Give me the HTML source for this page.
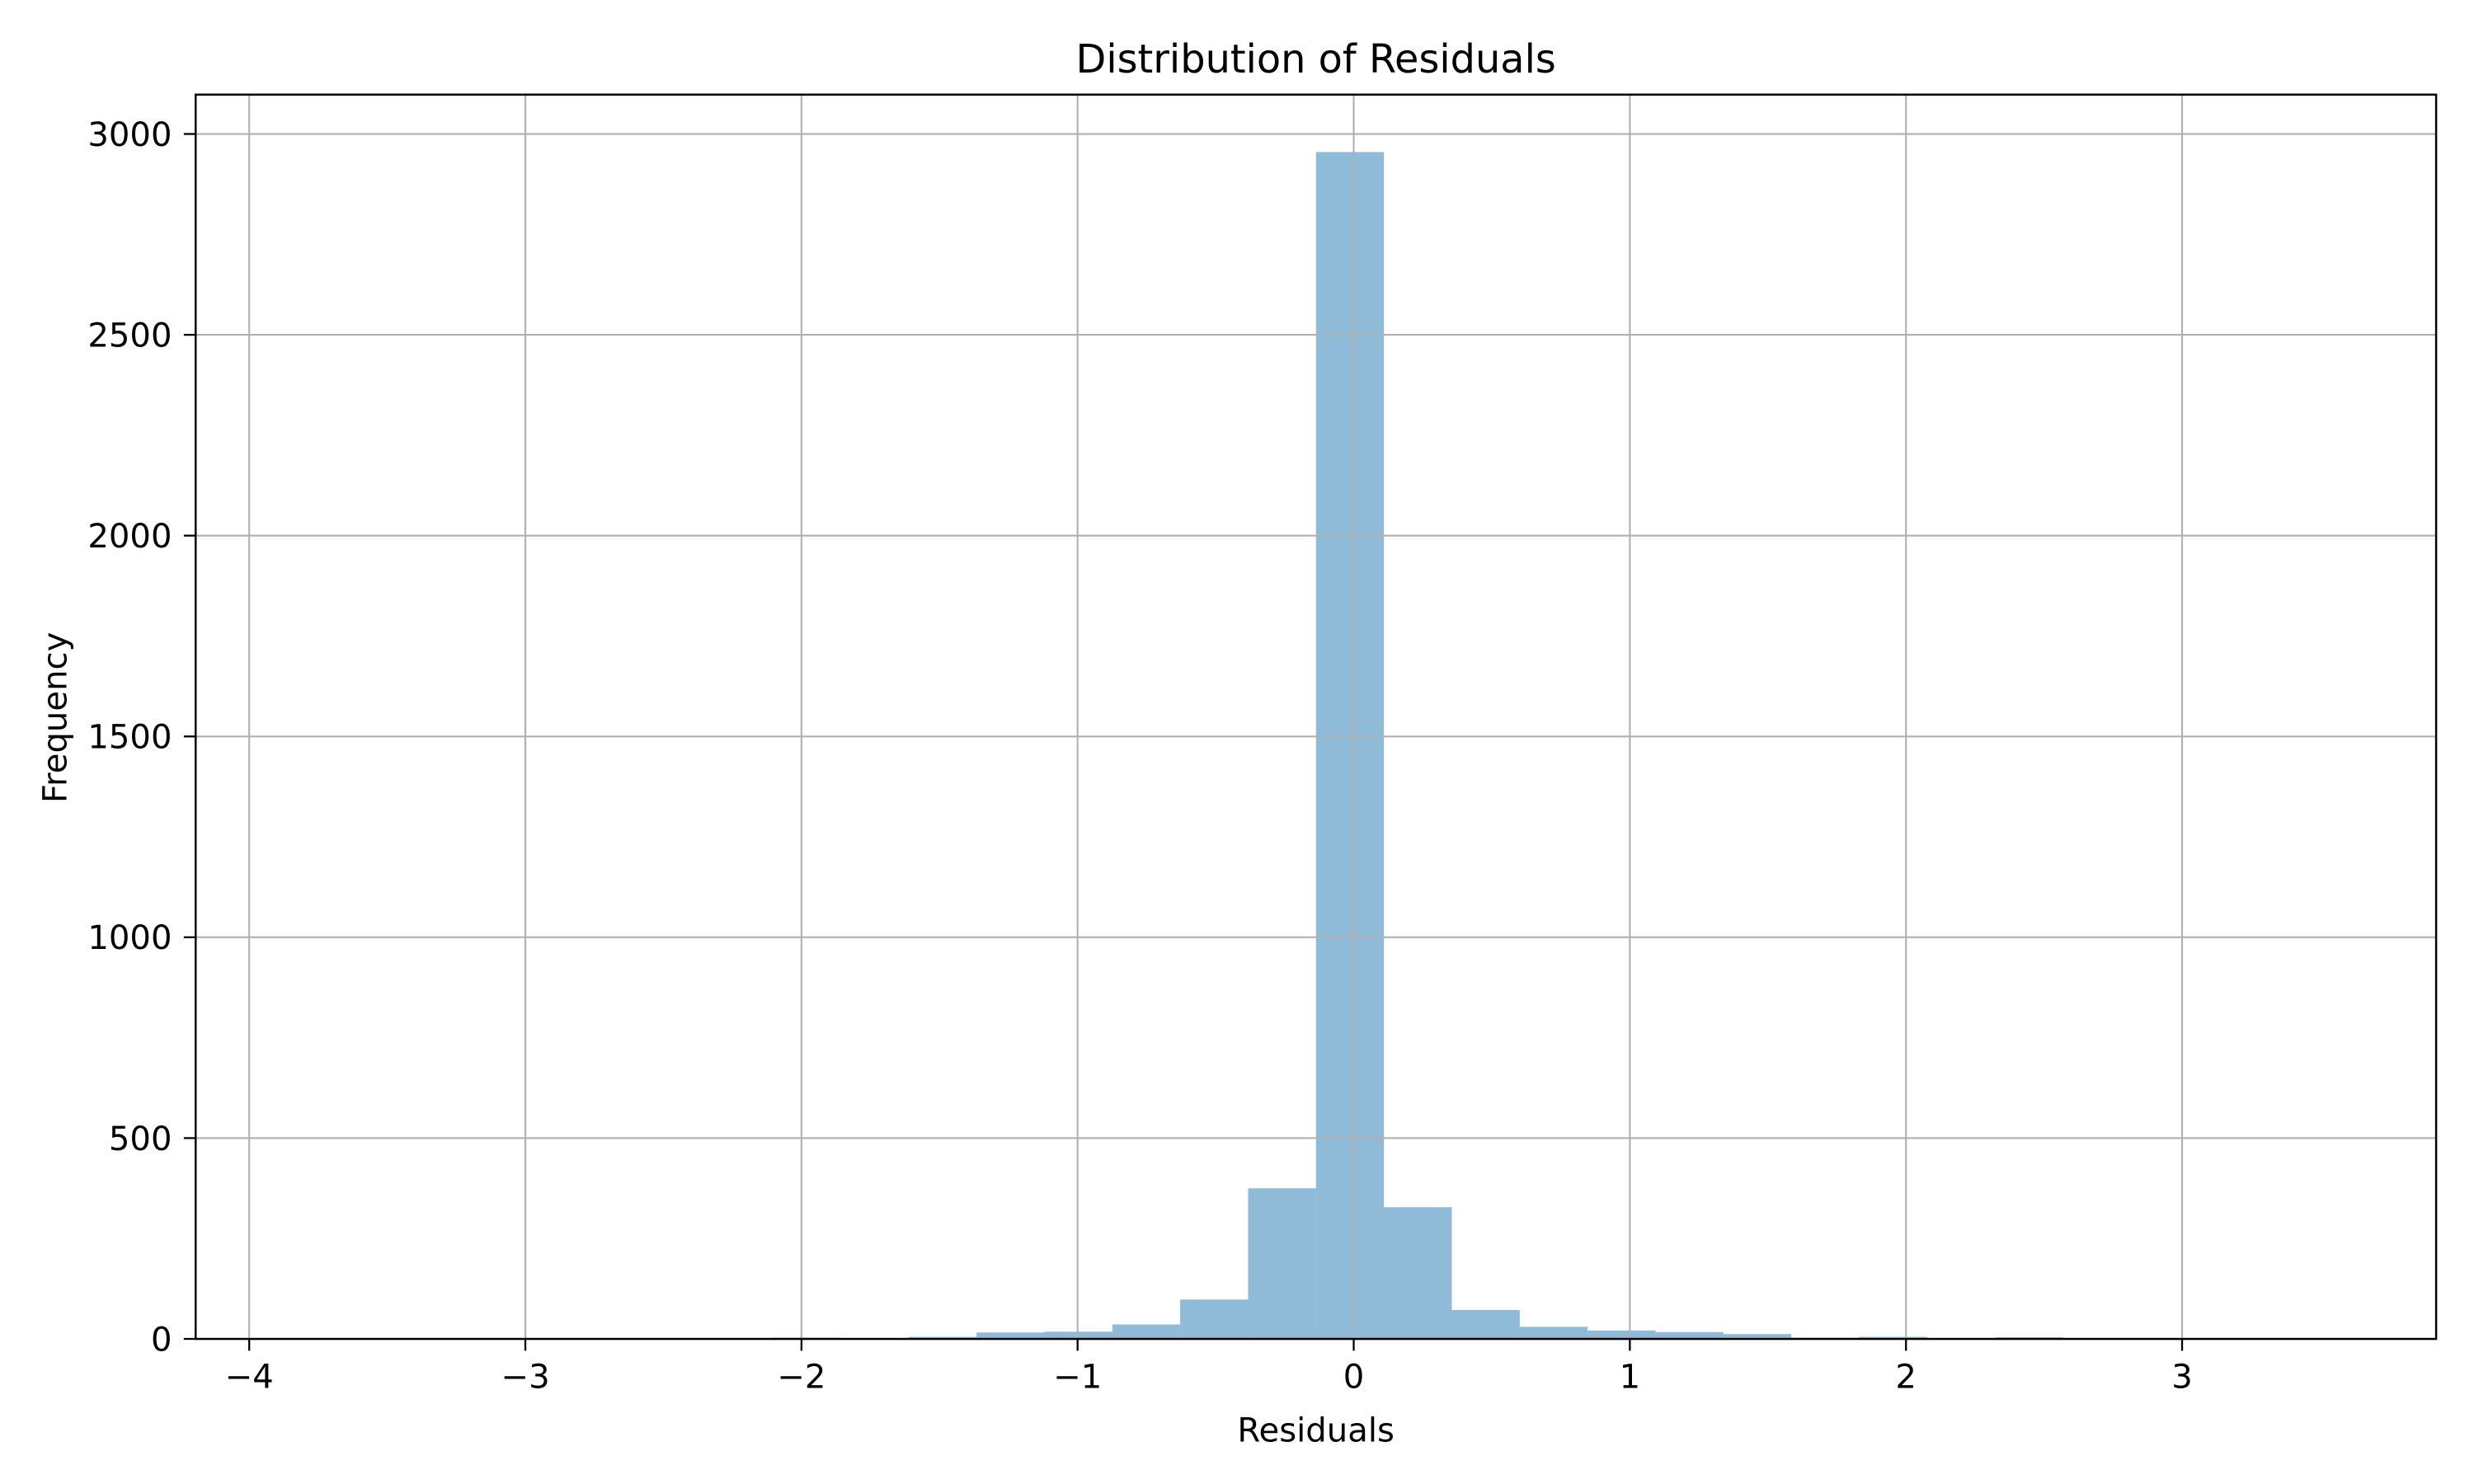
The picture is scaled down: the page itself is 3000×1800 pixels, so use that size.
<!DOCTYPE html>
<html><head><meta charset="utf-8"><style>
html,body{margin:0;padding:0;background:#fff}
svg{display:block}
text{font-family:"DejaVu Sans","Liberation Sans",sans-serif;fill:#000}
</style></head><body>
<svg id="chart" width="3000" height="1800" viewBox="0 0 1568 941" preserveAspectRatio="none" xmlns="http://www.w3.org/2000/svg">
<rect width="1568" height="941" fill="#fff"/>
<g id="bars"></g>
<g id="grid"></g>
<g id="axes"></g>
<text x="834" y="46" font-size="25" text-anchor="middle">Distribution of Residuals</text>
<text x="834" y="914" font-size="21" text-anchor="middle">Residuals</text>
<text x="42" y="455" font-size="21" text-anchor="middle" transform="rotate(-90 42 455)">Frequency</text>
</svg>
<script>
const binStart = -3.825;
const binWidth = 0.2459;
const counts = [1,0,0,0,0,0,0,3,0,5,16,18,36,98,375,2955,328,72,30,21,17,12,3,5,0,4,0,0,0,1];
const xTicks = [-4,-3,-2,-1,0,1,2,3];
const xTickLabels = ["\u22124","\u22123","\u22122","\u22121","0","1","2","3"];
const yTicks = [0,500,1000,1500,2000,2500,3000];
const yTickLabels = ["0","500","1000","1500","2000","2500","3000"];

const L=124,R=1544,T=60,B=849;
const xMin=-4.194,xMax=3.92,yMin=0,yMax=3098;
const xs=v=>L+(v-xMin)/(xMax-xMin)*(R-L);
const ys=v=>B-(v-yMin)/(yMax-yMin)*(B-T);
const NS="http://www.w3.org/2000/svg";
function mk(tag,attrs,parent){const e=document.createElementNS(NS,tag);for(const k in attrs)e.setAttribute(k,attrs[k]);parent.appendChild(e);return e;}
const grid=document.getElementById('grid'),bars=document.getElementById('bars'),axes=document.getElementById('axes');
xTicks.forEach((t,i)=>{
  const x=xs(t);
  const g=mk('line',{x1:x,x2:x,y1:T,y2:B,stroke:'#b0b0b0','stroke-width':1.1},grid);
  
  
  const tk=mk('line',{x1:x,x2:x,y1:B,y2:B+7.5,stroke:'#000','stroke-width':1.2},axes);
  
  
  const tx=mk('text',{x:x,y:B+31,'font-size':21,'text-anchor':'middle'},axes);
  tx.textContent=xTickLabels[i];
  
  
});
yTicks.forEach((t,i)=>{
  const y=ys(t);
  const g=mk('line',{x1:L,x2:R,y1:y,y2:y,stroke:'#b0b0b0','stroke-width':1.1},grid);
  
  
  const tk=mk('line',{x1:L-7.5,x2:L,y1:y,y2:y,stroke:'#000','stroke-width':1.2},axes);
  
  
  const tx=mk('text',{x:L-15,y:y+7.5,'font-size':21,'text-anchor':'end'},axes);
  tx.textContent=yTickLabels[i];
  
  
});
counts.forEach((c,i)=>{
  const x0=xs(binStart+i*binWidth),x1=xs(binStart+(i+1)*binWidth);
  const r=mk('rect',{x:x0,y:ys(c),width:x1-x0,height:B-ys(c),fill:'#1f77b4','fill-opacity':0.5},bars);
  
  
});
const frame=mk('rect',{x:L,y:T,width:R-L,height:B-T,fill:'none',stroke:'#000','stroke-width':1.3},axes);


</script>
</body></html>
